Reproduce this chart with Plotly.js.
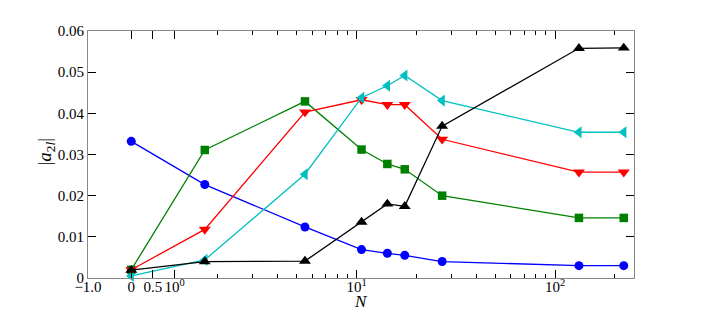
<!DOCTYPE html>
<html>
<head>
<meta charset="utf-8">
<script src="https://cdn.plot.ly/plotly-3.0.1.min.js"></script>
<style>html,body{margin:0;padding:0;background:#fff;}</style>
</head>
<body>
<div id="chart" style="width:705px;height:310px;"></div>
<script>
// Data (N values and |a_2l| values)
const N = [0, 1.7, 5.5, 10.6, 14.3, 17.5, 27, 132, 222];
const blueVals  = [0.0332, 0.0227, 0.0124, 0.0069, 0.0060, 0.0055, 0.0040, 0.0030, 0.0030];
const greenVals = [0.0020, 0.0311, 0.0429, 0.0312, 0.0277, 0.0264, 0.0200, 0.0146, 0.0146];
const redVals   = [0.0020, 0.0118, 0.0403, 0.0433, 0.0421, 0.0421, 0.0337, 0.0257, 0.0257];
const cyanVals  = [0.0005, 0.0044, 0.0252, 0.0438, 0.0467, 0.0492, 0.0431, 0.0354, 0.0354];
const blackVals = [0.0019, 0.0040, 0.0041, 0.0136, 0.0180, 0.0174, 0.0369, 0.0558, 0.0559];

const xTickVals = [-1, 0, 0.5, 1, 10, 100];
const xTickText = ['\u22121.0', '0', '0.5', '10<sup>0</sup>', '10<sup>1</sup>', '10<sup>2</sup>'];
const xMinorVals = [2,3,4,5,6,7,8,9,20,30,40,50,60,70,80,90,200];
const yTickVals = [0, 0.01, 0.02, 0.03, 0.04, 0.05, 0.06];
const yTickText = ['0', '0.01', '0.02', '0.03', '0.04', '0.05', '0.06'];
const xTitle = '<i>N</i>';
const yTitle = '|<i>a</i><sub>2<i>l</i></sub>|';
const xMin = -1, xMax = 250;

// symmetric-log style axis transform (linear within |x|<=2, log beyond)
const LIN = 2, K = 4.589;
function T(x){ return Math.abs(x) <= LIN ? x : Math.sign(x) * (LIN + K * Math.log10(Math.abs(x) / LIN)); }

const xs = N.map(T);
function tr(vals, color, symbol, size){
  return {x: xs, y: vals, type: 'scatter', mode: 'lines+markers',
    line: {color: color, width: 1.3},
    marker: {color: color, symbol: symbol, size: size, line: {width: 0}},
    showlegend: false, cliponaxis: false};
}
const data = [
  tr(blueVals, '#0000ff', 'circle', 9),
  tr(greenVals, '#008000', 'square', 8.5),
  tr(redVals, '#ff0000', 'triangle-down', 10.5),
  tr(cyanVals, '#00bfbf', 'triangle-left', 10.5),
  tr(blackVals, '#000000', 'triangle-up', 10.5)
];
const fam = 'Liberation Serif, DejaVu Serif, serif';
const font = {family: fam, size: 15, color: '#000'};
const layout = {
  width: 705, height: 310,
  margin: {l: 88, r: 71, t: 31, b: 32, pad: 0},
  paper_bgcolor: '#fff', plot_bgcolor: '#fff',
  font: font,
  xaxis: {
    range: [T(xMin), T(xMax)], showgrid: false, zeroline: false,
    showline: true, linecolor: '#888', linewidth: 1, mirror: 'allticks',
    ticks: 'inside', ticklen: 8, tickwidth: 1, tickcolor: '#000',
    tickmode: 'array', tickvals: xTickVals.map(T), ticktext: xTickText,
    ticklabelstandoff: -5,
    minor: {tickmode: 'array', tickvals: xMinorVals.map(T), ticks: 'inside', ticklen: 4, tickwidth: 1, tickcolor: '#000', showgrid: false},
    tickfont: font, automargin: false
  },
  yaxis: {
    range: [0, 0.06], showgrid: false, zeroline: false,
    showline: true, linecolor: '#888', linewidth: 1, mirror: 'allticks',
    ticks: 'inside', ticklen: 8, tickwidth: 1, tickcolor: '#000',
    tickmode: 'array', tickvals: yTickVals, ticktext: yTickText,
    tickfont: font, automargin: false
  },
  annotations: [
    {text: xTitle, xref: 'paper', yref: 'paper', x: 0.5, y: -0.097, xanchor: 'center', yanchor: 'middle',
     showarrow: false, font: {family: fam, size: 17, color: '#000'}},
    {text: yTitle, xref: 'paper', yref: 'paper', x: -0.076, y: 0.51, xanchor: 'center', yanchor: 'middle',
     textangle: -90, showarrow: false, font: {family: fam, size: 19, color: '#000'}}
  ]
};
Plotly.newPlot('chart', data, layout, {staticPlot: true, displayModeBar: false});
</script>
</body>
</html>
